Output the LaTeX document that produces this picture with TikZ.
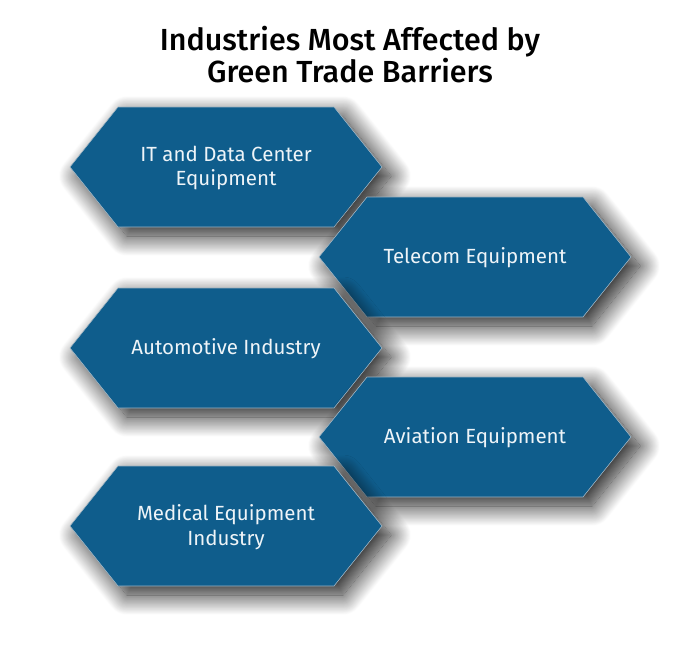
\documentclass[tikz,border=0pt]{standalone}
\usepackage{fontspec}
\setmainfont{Fira Sans}
\newfontfamily\titlefont{Fira Sans Medium}
\usetikzlibrary{shadows.blur}
\definecolor{hexblue}{HTML}{0F5D8C}
\definecolor{hexedge}{HTML}{9DB3C2}
\definecolor{hextext}{HTML}{EEF4F8}
\tikzset{
  hexshape/.style={fill=hexblue, draw=hexedge, line width=0.6pt,
    blur shadow={shadow xshift=9pt, shadow yshift=-9pt,
      shadow blur radius=20pt, shadow blur steps=25, shadow opacity=90}},
  hexlabel/.style={text=hextext, font=\fontsize{20.5}{24.5}\selectfont,
    align=center, inner sep=0pt},
  titletext/.style={font=\titlefont\fontsize{30.5}{32}\selectfont,
    align=center, text=black}
}
% \hexbox{cx}{cy}{name}{text}: elongated hexagon centred on (cx,cy)
\newcommand{\hexbox}[4]{%
  \path[hexshape] (#1-156,#2) -- (#1-108,#2-60) -- (#1+108,#2-60)
    -- (#1+156,#2) -- (#1+108,#2+60) -- (#1-108,#2+60) -- cycle;
  \node[hexlabel] (#3) at (#1,#2+1) {#4};
}
\begin{document}
\begin{tikzpicture}[x=1pt,y=-1pt]
  \useasboundingbox (0,0) rectangle (699,653);
  \node[titletext] (title) at (350,55)
    {Industries Most Affected by\\Green Trade Barriers};
  \hexbox{226}{167}{itdata}{IT and Data Center\\Equipment}
  \hexbox{475}{257}{telecom}{Telecom Equipment}
  \hexbox{226}{348}{auto}{Automotive Industry}
  \hexbox{475}{437}{aviation}{Aviation Equipment}
  \hexbox{226}{526}{medical}{Medical Equipment\\Industry}
\end{tikzpicture}
\end{document}
